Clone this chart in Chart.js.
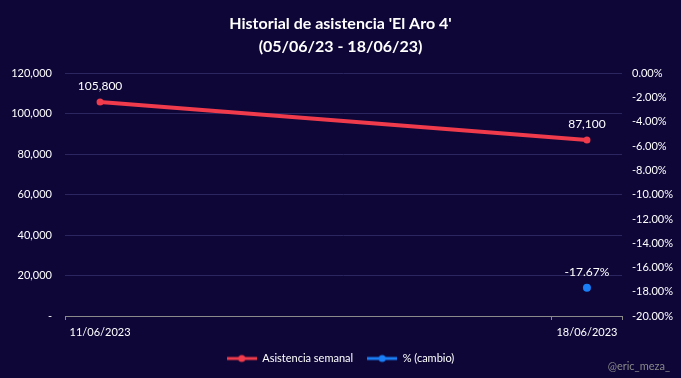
<!DOCTYPE html>
<html>
<head>
<meta charset="utf-8">
<script src="https://cdn.jsdelivr.net/npm/chart.js@4"></script>
<style>
  html, body { margin: 0; padding: 0; background: #0d0637; }
  #wrap { width: 681px; height: 378px; position: relative; }
</style>
</head>
<body>
<div id="wrap"><canvas id="chart"></canvas></div>
<script>
// data
const weeks = ["11/06/2023", "18/06/2023"];
const attendance = [105800, 87100];
const pctChange = [null, -17.67];
const leftTicks = [0, 20000, 40000, 60000, 80000, 100000, 120000];
const rightTicks = [0, -2, -4, -6, -8, -10, -12, -14, -16, -18, -20];

const red = "#ef3b4b";
const blue = "#1a7ef6";
const txt = "#ffffff";
const fontFam = "Lato, 'Open Sans', sans-serif";

// legend marker: line with a dot in the middle
function marker(color) {
  const c = document.createElement("canvas");
  c.width = 30; c.height = 10;
  const g = c.getContext("2d");
  g.strokeStyle = color; g.lineWidth = 3;
  g.beginPath(); g.moveTo(0, 5); g.lineTo(30, 5); g.stroke();
  g.fillStyle = color;
  g.beginPath(); g.arc(15, 5, 3.5, 0, Math.PI * 2); g.fill();
  return c;
}

const fmt = v => v.toLocaleString("en-US");

const labelsPlugin = {
  id: "pointLabels",
  afterDatasetsDraw(chart) {
    const ctx = chart.ctx;
    ctx.save();
    ctx.font = "12px " + fontFam;
    ctx.fillStyle = txt;
    ctx.textAlign = "center";
    ctx.textBaseline = "bottom";
    chart.data.datasets.forEach((ds, i) => {
      const meta = chart.getDatasetMeta(i);
      meta.data.forEach((pt, j) => {
        const v = ds.data[j].y;
        if (v === null) return;
        const s = i === 0 ? fmt(v) : v.toFixed(2) + "%";
        ctx.fillText(s, pt.x, pt.y - 10);
      });
    });
    ctx.restore();
  },
  afterDraw(chart) {
    const ctx = chart.ctx;
    ctx.save();
    // small ticks on the date axis
    const x = chart.scales.x, b = chart.chartArea.bottom;
    ctx.strokeStyle = "#8a8a8a"; ctx.lineWidth = 1;
    [chart.chartArea.left, x.getPixelForValue(0.926), chart.chartArea.right].forEach(px => {
      ctx.beginPath(); ctx.moveTo(Math.round(px) + 0.5, b); ctx.lineTo(Math.round(px) + 0.5, b + 4); ctx.stroke();
    });
    ctx.font = "11px " + fontFam;
    ctx.fillStyle = "#8a8a8a";
    ctx.textAlign = "right";
    ctx.textBaseline = "middle";
    ctx.fillText("@eric_meza_", 670, 366);
    ctx.restore();
  }
};

new Chart(document.getElementById("chart"), {
  type: "line",
  data: {
    datasets: [
      {
        label: "Asistencia semanal",
        data: attendance.map((v, i) => ({ x: i, y: v })),
        borderColor: red,
        backgroundColor: red,
        borderWidth: 4,
        pointRadius: 3.5,
        pointBorderWidth: 0,
        yAxisID: "y"
      },
      {
        label: "% (cambio)",
        data: pctChange.map((v, i) => ({ x: i, y: v })),
        borderColor: blue,
        backgroundColor: blue,
        borderWidth: 4,
        pointRadius: 4,
        pointBorderWidth: 0,
        yAxisID: "y1"
      }
    ]
  },
  options: {
    responsive: true,
    maintainAspectRatio: false,
    animation: false,
    layout: { padding: { top: 4, left: 0, right: 0, bottom: 4 } },
    plugins: {
      title: {
        display: true,
        text: ["Historial de asistencia 'El Aro 4'", "(05/06/23 - 18/06/23)"],
        color: txt,
        font: { family: fontFam, size: 16, weight: "bold", lineHeight: 1.45 },
        padding: { top: 8, bottom: 15 }
      },
      legend: {
        position: "bottom",
        labels: {
          color: txt,
          font: { family: fontFam, size: 11 },
          usePointStyle: true,
          pointStyleWidth: 30,
          boxHeight: 10,
          padding: 14,
          generateLabels(chart) {
            return chart.data.datasets.map((ds, i) => ({
              text: ds.label,
              fontColor: txt,
              pointStyle: marker(ds.borderColor),
              datasetIndex: i,
              lineWidth: 0,
              strokeStyle: "transparent",
              fillStyle: ds.borderColor
            }));
          }
        }
      },
      tooltip: { enabled: false }
    },
    scales: {
      x: {
        type: "linear",
        min: -0.072,
        max: 1.072,
        afterBuildTicks(axis) { axis.ticks = weeks.map((w, i) => ({ value: i })); },
        afterFit(axis) { axis.height = 23; },
        ticks: {
          color: txt,
          font: { family: fontFam, size: 11 },
          callback: v => weeks[v],
          maxRotation: 0,
          padding: 2
        },
        grid: { display: false },
        border: { color: "#8a8a8a", width: 1 }
      },
      y: {
        position: "left",
        min: 0,
        max: 120000,
        afterBuildTicks(axis) { axis.ticks = leftTicks.map(v => ({ value: v })); },
        afterFit(axis) { axis.width = 65; },
        ticks: {
          color: txt,
          font: { family: fontFam, size: 11 },
          padding: 13,
          callback: v => v === 0 ? "-" : fmt(v)
        },
        grid: { color: "#2b2660", drawTicks: false },
        border: { display: false }
      },
      y1: {
        position: "right",
        min: -20,
        max: 0,
        afterBuildTicks(axis) { axis.ticks = rightTicks.map(v => ({ value: v })); },
        afterFit(axis) { axis.width = 59; },
        ticks: {
          color: txt,
          font: { family: fontFam, size: 11 },
          padding: 10,
          callback: v => v.toFixed(2) + "%"
        },
        grid: { display: false, drawTicks: false },
        border: { display: false }
      }
    }
  },
  plugins: [labelsPlugin]
});
</script>
</body>
</html>
